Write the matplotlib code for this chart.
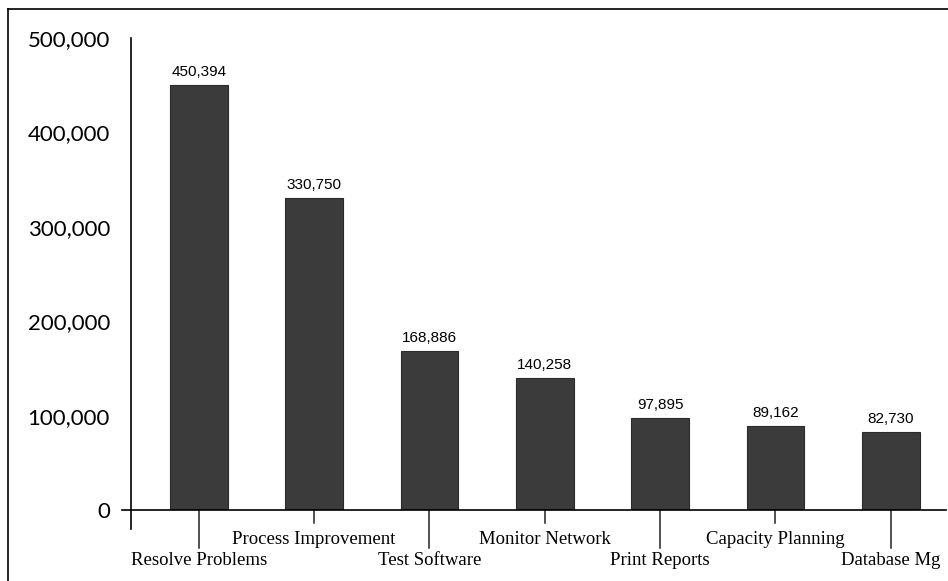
import matplotlib
matplotlib.use("Agg")

import matplotlib.pyplot as plt
from matplotlib.lines import Line2D

# データ
categories = ["Resolve Problems", "Process Improvement", "Test Software",
              "Monitor Network", "Print Reports", "Capacity Planning",
              "Database Mg"]
values = [450394, 330750, 168886, 140258, 97895, 89162, 82730]
yticks = [0, 100000, 200000, 300000, 400000, 500000]

fig = plt.figure(figsize=(9.48, 5.81), dpi=100)
ax = fig.add_axes([0.138, 0.122, 0.86, 0.8125])

x = list(range(len(categories)))
ax.bar(x, values, width=0.5, color="#3b3b3b", edgecolor="#2a2a2a", linewidth=0.8, zorder=2)

# 棒の上に値を表示
for xi, v in zip(x, values):
    ax.annotate(f"{v:,}", (xi, v), xytext=(0, 4), textcoords="offset points",
                ha="center", va="bottom", fontsize=11, family="Liberation Sans")

ax.set_xlim(-0.59, 6.48)
ax.set_ylim(0, 500000)
ax.set_yticks(yticks)
ax.set_yticklabels([f"{t:,}" for t in yticks], fontsize=16, family="Lato")
ax.tick_params(axis="y", length=0, pad=15)

# 横軸の目盛りとラベルは2段に互い違い（手で描く）
ax.set_xticks([])
trans = ax.get_xaxis_transform()
for i, name in enumerate(categories):
    if i % 2 == 0:
        tick_len, off = 0.0805, -36
    else:
        tick_len, off = 0.0275, -21.5
    ax.plot([i, i], [0, -tick_len], transform=trans, color="#222222", lw=1.1, clip_on=False)
    ax.annotate(name, (i, 0), xycoords=trans, xytext=(0, off), textcoords="offset points",
                ha="center", va="center", fontsize=13.5, family="Liberation Serif")

for s in ["top", "right"]:
    ax.spines[s].set_visible(False)
ax.spines["left"].set_linewidth(1.2)
ax.spines["bottom"].set_linewidth(1.2)

# 縦軸を下へ、横軸を左へ少し延ばす
ax.plot([0, 0], [-0.04, 0], transform=ax.transAxes, color="black", lw=1.2, clip_on=False)
ax.plot([-0.011, 0], [0, 0], transform=ax.transAxes, color="black", lw=1.2, clip_on=False)

# 外枠（上と左）
fig.add_artist(Line2D([8/948, 1], [1 - 9/581, 1 - 9/581], color="black", lw=1.2))
fig.add_artist(Line2D([8/948, 8/948], [0, 1 - 9/581], color="black", lw=1.2))

plt.savefig("out.png", dpi=100)
